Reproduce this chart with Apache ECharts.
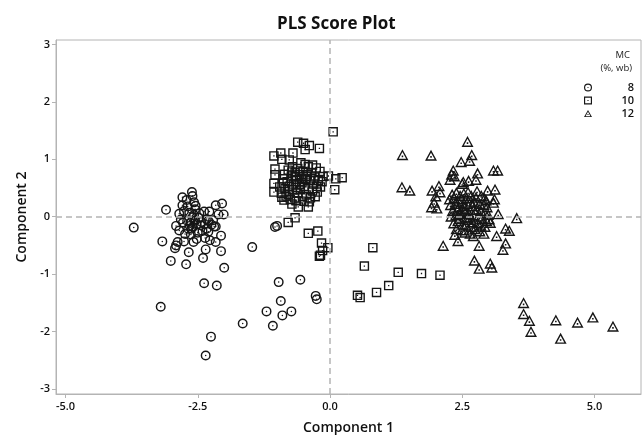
<!DOCTYPE html>
<html>
<head>
<meta charset="utf-8">
<script src="https://cdn.jsdelivr.net/npm/echarts@6/dist/echarts.min.js"></script>
<style>
html,body{margin:0;padding:0;background:#fff;}
#chart{width:642px;height:440px;}
</style>
</head>
<body>
<div id="chart"></div>
<script>
// ---- Data (Component 1, Component 2) ----
const seriesNames = ['8', '10', '12'];
const xTicks = [-5, -2.5, 0, 2.5, 5];
const yTicks = [-3, -2, -1, 0, 1, 2, 3];

const mc8 = [
  [-3.71,-0.19],[-3.10,0.12],[-3.17,-0.43],[-3.01,-0.77],[-2.72,-0.83],[-2.93,-0.55],[-2.91,-0.50],[-2.88,-0.44],
  [-2.76,-0.43],[-2.67,-0.62],[-2.91,-0.16],[-2.85,-0.24],[-2.78,-0.10],[-2.79,0.20],[-2.79,0.34],[-2.71,0.29],
  [-2.61,0.43],[-2.60,0.36],[-2.57,0.25],[-2.54,0.19],[-2.76,0.10],[-2.55,0.13],[-2.70,-0.07],[-2.65,-0.16],
  [-2.62,-0.21],[-2.59,-0.18],[-2.68,-0.21],[-2.55,-0.07],[-2.60,-0.01],[-2.52,-0.13],[-2.38,0.09],[-2.28,0.09],
  [-2.33,-0.04],[-2.43,-0.09],[-2.37,-0.13],[-2.30,-0.07],[-2.21,-0.06],[-2.19,-0.17],[-2.16,-0.17],[-2.16,0.20],
  [-2.04,0.23],[-2.11,0.04],[-2.01,0.04],[-2.36,-0.37],[-2.27,-0.41],[-2.16,-0.44],[-2.06,-0.33],[-2.35,-0.57],
  [-2.40,-0.72],[-2.06,-0.60],[-2.00,-0.89],[-2.58,-0.44],[-2.52,-0.39],[-2.30,-0.26],[-2.33,-0.21],[-3.20,-1.57],
  [-2.38,-1.16],[-2.14,-1.20],[-2.25,-2.09],[-2.35,-2.42],[-1.65,-1.86],[-1.20,-1.65],[-1.08,-1.90],[-0.90,-1.72],
  [-0.73,-1.65],[-0.93,-1.47],[-0.97,-1.14],[-0.56,-1.10],[-0.27,-1.38],[-0.25,-1.44],[-1.47,-0.53],[-1.04,-0.18],
  [-1.00,-0.16],[-2.64,-0.11],[-2.48,-0.02],[-2.45,-0.15],[-2.74,-0.30],[-2.50,-0.28],[-2.82,-0.05],[-2.66,0.07],
  [-2.41,-0.25],[-2.24,-0.14],[-2.85,0.05],[-2.63,-0.31],[-2.57,0.03],[-2.69,0.18],[-2.47,0.06]
];

const mc10 = [
  [0.06,1.48],[-0.61,1.30],[-0.50,1.28],[-0.39,1.24],[-0.47,1.17],[-0.20,1.19],[-1.06,1.06],[-0.93,1.11],
  [-0.91,1.00],[-0.77,0.99],[-0.70,1.11],[-1.04,0.83],[-1.04,0.73],[-1.06,0.58],[-1.06,0.43],[-0.91,0.34],
  [-0.87,0.29],[-0.72,0.22],[-0.60,0.17],[-0.41,0.17],[-0.03,0.71],[0.11,0.66],[0.23,0.68],[0.09,0.47],
  [-0.66,-0.02],[-0.79,-0.10],[-0.41,-0.29],[-0.23,-0.25],[-0.16,-0.46],[-0.04,-0.54],[-0.14,-0.59],[-0.18,-0.67],
  [-0.20,-0.69],[0.65,-0.86],[0.81,-0.54],[0.52,-1.37],[0.57,-1.41],[0.88,-1.32],[1.11,-1.20],[1.29,-0.97],
  [1.73,-0.99],[2.08,-1.02],
  [-0.55,0.94],[-0.47,0.91],[-0.41,0.87],[-0.33,0.90],[-0.26,0.85],[-0.19,0.79],[-0.61,0.84],[-0.71,0.87],
  [-0.79,0.81],[-0.86,0.74],[-0.89,0.66],[-0.81,0.61],[-0.73,0.71],[-0.66,0.77],[-0.57,0.73],[-0.51,0.79],
  [-0.43,0.73],[-0.35,0.77],[-0.29,0.69],[-0.22,0.63],[-0.15,0.61],[-0.31,0.57],[-0.38,0.63],[-0.46,0.65],
  [-0.53,0.59],[-0.63,0.65],[-0.69,0.57],[-0.77,0.53],[-0.85,0.49],[-0.92,0.41],[-0.79,0.39],[-0.71,0.47],
  [-0.64,0.51],[-0.56,0.47],[-0.49,0.53],[-0.41,0.49],[-0.33,0.45],[-0.24,0.43],[-0.18,0.52],[-0.28,0.35],
  [-0.37,0.33],[-0.45,0.38],[-0.52,0.35],[-0.61,0.41],[-0.67,0.33],[-0.75,0.30],[-0.83,0.36],[-0.49,0.27],
  [-0.39,0.26],[-0.64,0.28],[-0.54,0.67],[-0.45,0.70],[-0.65,0.69],[-0.36,0.66],[-0.72,0.78],[-0.13,0.70],
  [-0.25,0.53],[-0.58,0.56],[-0.88,0.58],[-0.95,0.52]
];

const mc12 = [
  [2.60,1.31],[1.37,1.08],[1.91,1.07],[2.68,1.08],[2.64,0.98],[2.48,0.96],[3.09,0.81],[3.17,0.81],
  [2.33,0.81],[2.30,0.74],[2.27,0.65],[2.35,0.71],[2.79,0.76],[2.76,0.65],[2.62,0.63],[2.52,0.61],
  [2.50,0.58],[1.36,0.52],[1.51,0.46],[1.93,0.46],[2.06,0.54],[2.08,0.43],[2.00,0.36],[1.97,0.25],
  [1.92,0.17],[2.02,0.15],[2.78,0.45],[2.98,0.46],[3.12,0.48],[3.11,0.31],[3.09,0.25],[2.92,0.32],
  [3.53,-0.02],[3.18,0.05],[3.03,-0.10],[3.01,-0.04],[3.32,-0.20],[3.39,-0.24],[3.15,-0.33],[3.32,-0.46],
  [3.27,-0.57],[2.14,-0.50],[2.42,-0.42],[2.82,-0.50],[2.73,-0.76],[2.82,-0.90],[3.03,-0.81],[3.06,-0.88],
  [3.66,-1.50],[3.66,-1.69],[3.77,-1.81],[3.80,-2.00],[4.27,-1.80],[4.36,-2.12],[4.68,-1.84],[4.97,-1.75],
  [5.35,-1.91],
  [2.31,0.39],[2.39,0.42],[2.46,0.37],[2.53,0.41],[2.61,0.43],[2.67,0.37],[2.76,0.34],[2.86,0.37],
  [2.95,0.29],[2.26,0.31],[2.35,0.33],[2.43,0.27],[2.49,0.31],[2.58,0.33],[2.66,0.27],[2.73,0.25],
  [2.83,0.23],[2.91,0.21],[2.97,0.17],[2.28,0.21],[2.37,0.23],[2.44,0.17],[2.53,0.19],[2.59,0.23],
  [2.69,0.19],[2.77,0.13],[2.85,0.11],[2.93,0.07],[2.99,0.04],[2.32,0.11],[2.41,0.13],[2.47,0.07],
  [2.56,0.09],[2.63,0.05],[2.71,0.03],[2.81,0.01],[2.87,-0.03],[2.96,-0.07],[2.29,0.01],[2.38,0.03],
  [2.45,-0.03],[2.55,-0.01],[2.62,-0.05],[2.69,-0.09],[2.79,-0.11],[2.85,-0.15],[2.93,-0.17],[2.34,-0.11],
  [2.42,-0.07],[2.51,-0.13],[2.57,-0.15],[2.67,-0.17],[2.74,-0.21],[2.83,-0.25],[2.39,-0.21],[2.49,-0.23],
  [2.55,-0.27],[2.65,-0.29],[2.71,-0.33],[2.91,-0.29],[2.36,-0.31],[2.61,-0.01],[2.72,0.12],[2.51,0.14],
  [2.44,0.05]
];

// ---- Marker shapes (outline + centre dot) ----
const circleSym = 'path://M10 0 A10 10 0 1 1 10 20 A10 10 0 1 1 10 0 Z M10 2.9 A7.1 7.1 0 1 0 10 17.1 A7.1 7.1 0 1 0 10 2.9 Z M10 8.5 A1.5 1.5 0 1 1 10 11.5 A1.5 1.5 0 1 1 10 8.5 Z';
const squareSym = 'path://M0 0 L20 0 L20 20 L0 20 Z M2.9 2.9 L2.9 17.1 L17.1 17.1 L17.1 2.9 Z M8.6 8.6 L11.4 8.6 L11.4 11.4 L8.6 11.4 Z';
const triSym = 'path://M10 0 L20 18 L0 18 Z M10 4.6 L3.9 15.6 L16.1 15.6 Z M8.7 10.3 L11.3 10.3 L11.3 12.9 L8.7 12.9 Z';

const FONT = '"Open Sans", "Noto Sans", sans-serif';
const chart = echarts.init(document.getElementById('chart'), null, {renderer: 'canvas'});

function mkSeries(name, data, symbol, size) {
  return {
    name: name, type: 'scatter', data: data, symbol: symbol, symbolSize: size,
    itemStyle: {color: '#161616', opacity: 1},
    emphasis: {disabled: true}
  };
}

const series = [
  mkSeries(seriesNames[0], mc8, circleSym, [10, 10]),
  mkSeries(seriesNames[1], mc10, squareSym, [9.5, 9.5]),
  mkSeries(seriesNames[2], mc12, triSym, [12, 11])
];
series.unshift({
  type: 'scatter', data: [], silent: true, z: 1,
  markLine: {
    silent: true, symbol: 'none', label: {show: false},
    lineStyle: {color: '#b4b4b4', type: [6, 4], width: 1.5},
    data: [{xAxis: 0}, {yAxis: 0}]
  }
});

chart.setOption({
  animation: false,
  backgroundColor: '#fff',
  title: {
    text: 'PLS Score Plot', left: 272, top: 11,
    textStyle: {fontFamily: FONT, fontSize: 17, fontWeight: 'bold', color: '#111'}
  },
  grid: {left: 56, right: 1, top: 40, bottom: 44, show: true, borderColor: '#b4b4b4', borderWidth: 1},
  xAxis: {
    type: 'value', min: -5.18, max: 5.88,
    name: 'Component 1', nameLocation: 'middle', nameGap: 27,
    nameTextStyle: {fontFamily: FONT, fontSize: 14, fontWeight: 600, color: '#111'},
    splitLine: {show: false},
    axisLine: {show: true, onZero: false, lineStyle: {color: '#b4b4b4'}},
    axisTick: {show: true, length: 4, customValues: xTicks, lineStyle: {color: '#b4b4b4'}},
    axisLabel: {customValues: xTicks, margin: 7, fontFamily: FONT, fontSize: 11, color: '#111', fontWeight: 600,
      formatter: v => v.toFixed(1)}
  },
  yAxis: {
    type: 'value', min: -3.09, max: 3.08,
    name: 'Component 2', nameLocation: 'middle', nameGap: 22,
    nameTextStyle: {fontFamily: FONT, fontSize: 14, fontWeight: 600, color: '#111'},
    splitLine: {show: false},
    axisLine: {show: true, onZero: false, lineStyle: {color: '#b4b4b4'}},
    axisTick: {show: true, length: 4, customValues: yTicks, lineStyle: {color: '#b4b4b4'}},
    axisLabel: {customValues: yTicks, margin: 6, fontFamily: FONT, fontSize: 11, color: '#111', fontWeight: 600,
      formatter: v => String(Math.round(v))}
  },
  legend: {
    orient: 'vertical', left: 579, top: 77, itemGap: 2,
    itemWidth: 8, itemHeight: 8,
    data: seriesNames,
    formatter: '{a|{name}}',
    textStyle: {fontFamily: FONT, fontSize: 11, color: '#111',
      rich: {a: {width: 37, align: 'right', fontFamily: FONT, fontSize: 11, fontWeight: 600, color: '#111', lineHeight: 14}}},
    selectedMode: false
  },
  graphic: [
    {type: 'text', right: 12, top: 50, style: {text: 'MC', fontFamily: FONT, fontSize: 9.5, fill: '#222', textAlign: 'right'}},
    {type: 'text', right: 10, top: 63, style: {text: '(%, wb)', fontFamily: FONT, fontSize: 9.5, fill: '#222', textAlign: 'right'}}
  ],
  series: series
});
</script>
</body>
</html>
